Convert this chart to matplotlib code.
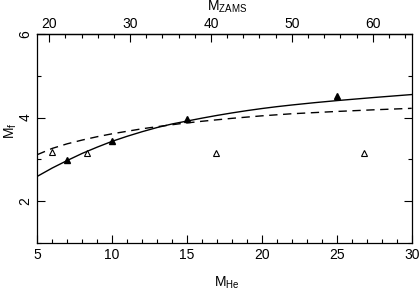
import matplotlib
matplotlib.use("Agg")
import matplotlib.pyplot as plt
from matplotlib.ticker import MultipleLocator

plt.rcParams['font.family'] = ['Liberation Sans', 'DejaVu Sans']

# fitted curves
m_he_solid = [5, 6, 7, 8, 9, 10, 11, 12, 13, 14, 15, 16, 17, 18, 19, 20, 21, 22,
              23.5, 25, 27.5, 30]
mf_solid = [2.59, 2.79, 2.97, 3.14, 3.29, 3.43, 3.55, 3.66, 3.76, 3.845, 3.915,
            3.985, 4.05, 4.11, 4.165, 4.215, 4.26, 4.30, 4.355, 4.405, 4.48, 4.55]
m_he_dash = [5, 6, 7, 8, 9, 10, 11, 12, 13, 14.5, 16, 18, 20, 22, 25, 27.5, 30]
mf_dash = [3.11, 3.26, 3.37, 3.46, 3.54, 3.61, 3.67, 3.73, 3.78, 3.85, 3.91,
           3.98, 4.04, 4.09, 4.145, 4.185, 4.22]

# models
filled_x = [7, 10, 15, 25]
filled_y = [2.98, 3.44, 3.96, 4.52]
open_x = [5.96, 8.34, 16.9, 26.8]
open_y = [3.18, 3.14, 3.14, 3.14]

zams_ticks = [20, 30, 40, 50, 60]

fig = plt.figure(figsize=(4.19, 2.91), dpi=100)
ax = fig.add_axes([0.089, 0.166, 0.8936, 0.717])

ax.plot(m_he_solid, mf_solid, color="black", lw=1.0)
ax.plot(m_he_dash, mf_dash, color="black", lw=1.0, dashes=(6, 4))
ax.plot(filled_x, filled_y, "^", color="black", ms=4.5)
ax.plot(open_x, open_y, "^", mfc="white", mec="black", mew=0.8, ms=4.5, ls="none")

ax.set_xlim(5, 30)
ax.set_ylim(1, 6)
ax.xaxis.set_major_locator(MultipleLocator(5))
ax.xaxis.set_minor_locator(MultipleLocator(1))
ax.yaxis.set_major_locator(MultipleLocator(2))
ax.yaxis.set_minor_locator(MultipleLocator(1))
ax.tick_params(which="both", direction="in", right=True, labelsize=10, width=0.8)
ax.tick_params(which="major", length=6)
ax.tick_params(which="minor", length=3)
for lab in ax.get_yticklabels():
    lab.set_rotation(90)
    lab.set_va("center")
for s in ax.spines.values():
    s.set_linewidth(0.9)

ax.set_xlabel("M$_{\\mathregular{He}}$", fontsize=10)
ax.xaxis.set_label_coords(0.505, -0.155)
ax.set_ylabel("M$_{\\mathregular{f}}$", fontsize=10)
ax.yaxis.set_label_coords(-0.05, 0.535)

# top axis: zero-age main sequence mass
def he_to_zams(x):
    return 20 + (x - 5.802) / 0.5398

def zams_to_he(z):
    return 5.802 + 0.5398 * (z - 20)

top = ax.secondary_xaxis("top", functions=(he_to_zams, zams_to_he))
top.set_xticks(zams_ticks)
top.xaxis.set_minor_locator(MultipleLocator(2))
top.tick_params(which="both", direction="in", labelsize=10, width=0.8, pad=2)
top.tick_params(which="major", length=6)
top.tick_params(which="minor", length=3)
top.spines["top"].set_linewidth(0.9)
ax.text(0.507, 1.13, "M$_{\\mathregular{ZAMS}}$", fontsize=10,
        transform=ax.transAxes, ha="center", va="center")

fig.savefig("out.png", dpi=100)
